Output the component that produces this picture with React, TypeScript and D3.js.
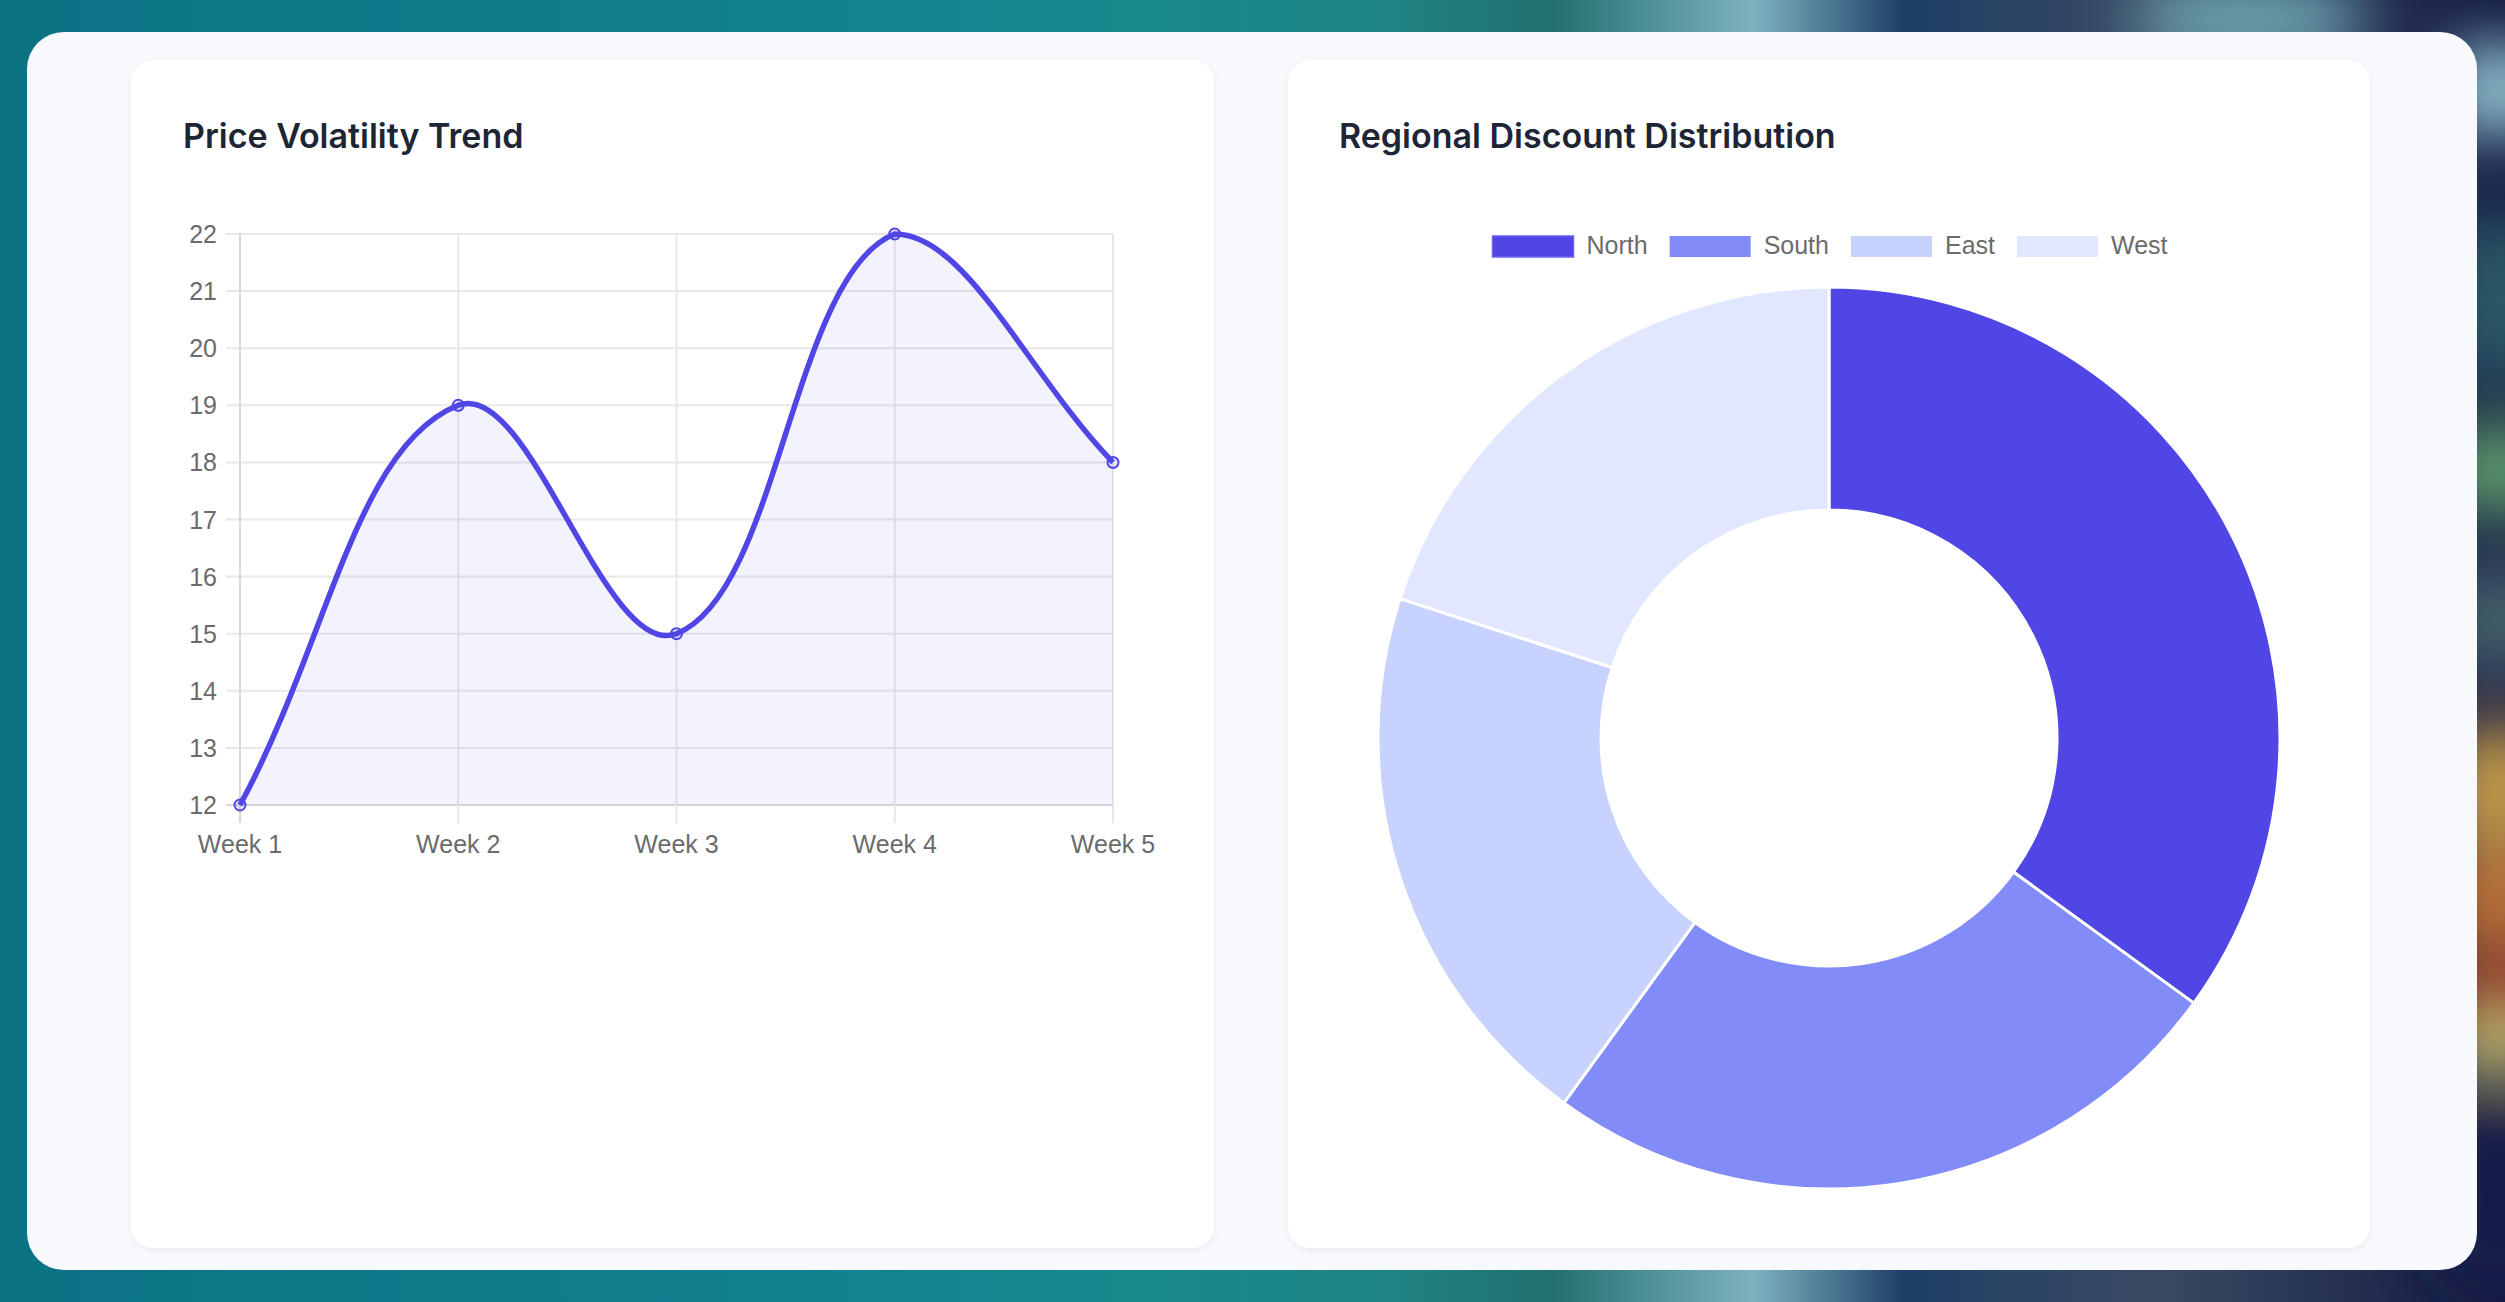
import { useMemo } from "react";
import * as d3 from "d3";

// Line chart data
const weeks = ["Week 1", "Week 2", "Week 3", "Week 4", "Week 5"];
const prices = [12, 19, 15, 22, 18];
const priceDomain = [12, 22];

// Doughnut data
const regions = ["North", "South", "East", "West"];
const discounts = [35, 25, 20, 20];
const regionColors = ["#4f46e5", "#818cf8", "#c7d2fe", "#e0e7ff"];

const W = 2505;
const H = 1302;
const labelFont = "'Liberation Sans', Arial, Helvetica, sans-serif";
const titleFont = "Inter, 'Noto Sans', sans-serif";

// Chart.js style spline (tension + control points capped to the chart area)
const chartSpline = (tension: number, box: { left: number; right: number; top: number; bottom: number }) =>
  (context: any) => {
    let xs: number[] = [];
    let ys: number[] = [];
    let line = NaN;
    const capX = (v: number) => Math.max(box.left, Math.min(box.right, v));
    const capY = (v: number) => Math.max(box.top, Math.min(box.bottom, v));
    return {
      areaStart() { line = 0; },
      areaEnd() { line = NaN; },
      lineStart() { xs = []; ys = []; },
      point(x: number, y: number) { xs.push(+x); ys.push(+y); },
      lineEnd() {
        const n = xs.length;
        if (n) {
          if (line) context.lineTo(xs[0], ys[0]);
          else context.moveTo(xs[0], ys[0]);
          const cps = xs.map((_, i) => {
            const p = Math.max(i - 1, 0);
            const q = Math.min(i + 1, n - 1);
            const d01 = Math.hypot(xs[i] - xs[p], ys[i] - ys[p]);
            const d12 = Math.hypot(xs[q] - xs[i], ys[q] - ys[i]);
            const s01 = d01 + d12 ? d01 / (d01 + d12) : 0;
            const s12 = d01 + d12 ? d12 / (d01 + d12) : 0;
            const fa = tension * s01;
            const fb = tension * s12;
            const dx = xs[q] - xs[p];
            const dy = ys[q] - ys[p];
            return {
              px: capX(xs[i] - fa * dx), py: capY(ys[i] - fa * dy),
              nx: capX(xs[i] + fb * dx), ny: capY(ys[i] + fb * dy),
            };
          });
          for (let i = 0; i < n - 1; i++) {
            context.bezierCurveTo(cps[i].nx, cps[i].ny, cps[i + 1].px, cps[i + 1].py, xs[i + 1], ys[i + 1]);
          }
        }
        if (line || (line !== 0 && n === 1)) context.closePath();
        line = 1 - line;
      },
    };
  };

const LineCard = () => {
  const plot = { left: 240, right: 1113, top: 234, bottom: 805 };

  const x = d3.scalePoint<string>().domain(weeks).range([plot.left, plot.right]);
  const y = d3.scaleLinear().domain(priceDomain).range([plot.bottom, plot.top]);
  const curve = chartSpline(0.4, plot) as any;

  const lineGen = d3.line<number>()
    .x((_, i) => x(weeks[i])!)
    .y((d) => y(d))
    .curve(curve);
  const areaGen = d3.area<number>()
    .x((_, i) => x(weeks[i])!)
    .y0(plot.bottom)
    .y1((d) => y(d))
    .curve(curve);

  const yTicks = y.ticks(10);

  return (
    <g>
      <text x={183} y={148} fontFamily={titleFont} fontWeight={600} fontSize={34} fill="#1e2535">
        Price Volatility Trend
      </text>

      {/* horizontal grid */}
      {yTicks.map((t) => (
        <g key={t}>
          <line x1={plot.left - 14} x2={plot.right} y1={y(t)} y2={y(t)}
            stroke={t === priceDomain[0] ? "#d9d9d9" : "#e8e8e8"} strokeWidth={2} />
          <text x={217} y={y(t)} textAnchor="end" dominantBaseline="central"
            fontFamily={labelFont} fontSize={25} fill="#6b6b6b">{t}</text>
        </g>
      ))}

      {/* vertical grid */}
      {weeks.map((w, i) => (
        <g key={w}>
          <line x1={x(w)} x2={x(w)} y1={plot.top} y2={plot.bottom + 18}
            stroke={i === 0 ? "#d9d9d9" : "#e8e8e8"} strokeWidth={2} />
          <text x={x(w)} y={853} textAnchor="middle"
            fontFamily={labelFont} fontSize={25} fill="#6b6b6b">{w}</text>
        </g>
      ))}

      <path d={areaGen(prices) ?? ""} fill="rgba(79,76,229,0.065)" />
      <path d={lineGen(prices) ?? ""} fill="none" stroke="#4f46e5" strokeWidth={5.5} />
      {prices.map((p, i) => (
        <circle key={i} cx={x(weeks[i])} cy={y(p)} r={5.5}
          fill="rgba(79,70,229,0.12)" stroke="#4f46e5" strokeWidth={2} />
      ))}
    </g>
  );
};

const DonutCard = () => {
  const cx = 1829;
  const cy = 738;
  const rOuter = 451;
  const rInner = 228;

  const color = d3.scaleOrdinal<string, string>().domain(regions).range(regionColors);
  const pie = d3.pie<number>().sort(null).value((d) => d);
  const arc = d3.arc<d3.PieArcDatum<number>>().innerRadius(rInner).outerRadius(rOuter);
  const slices = pie(discounts);

  // legend layout like Chart.js: box, half font gap, label, padding
  const legend = useMemo(() => {
    const ctx = document.createElement("canvas").getContext("2d")!;
    ctx.font = `25px ${labelFont}`;
    const boxW = 81;
    const gap = 13;
    const pad = 22;
    const widths = regions.map((r) => boxW + gap + ctx.measureText(r).width);
    const total = d3.sum(widths) + pad * (regions.length - 1);
    let pos = 1830 - total / 2;
    return regions.map((r, i) => {
      const item = { name: r, x: pos, boxW, textX: pos + boxW + gap };
      pos += widths[i] + pad;
      return item;
    });
  }, []);

  return (
    <g>
      <text x={1339} y={148} fontFamily={titleFont} fontWeight={600} fontSize={34} fill="#1e2535">
        Regional Discount Distribution
      </text>

      {legend.map((l) => (
        <g key={l.name}>
          <rect x={l.x} y={236} width={l.boxW} height={21} fill={color(l.name)}
            stroke={l.name === "North" ? "#6a63ee" : "none"} strokeWidth={1.5} />
          <text x={l.textX} y={245} dominantBaseline="central"
            fontFamily={labelFont} fontSize={25} fill="#6b6b6b">{l.name}</text>
        </g>
      ))}

      <g transform={`translate(${cx},${cy})`}>
        {slices.map((s, i) => (
          <path key={regions[i]} d={arc(s) ?? ""} fill={color(regions[i])}
            stroke="#ffffff" strokeWidth={3} strokeLinejoin="round" />
        ))}
      </g>
    </g>
  );
};

export default function App() {
  return (
    <div style={{ position: "fixed", left: 0, top: 0 }}>
      <svg width={W} height={H} style={{ display: "block" }}>
        <defs>
          <linearGradient id="bg" x1="0" y1="0" x2="1" y2="0">
            <stop offset="0" stopColor="#0b7284" />
            <stop offset="0.3" stopColor="#11808f" />
            <stop offset="0.45" stopColor="#178a8e" />
            <stop offset="0.55" stopColor="#1f8585" />
            <stop offset="0.62" stopColor="#22706e" />
            <stop offset="0.7" stopColor="#7eb2c0" />
            <stop offset="0.76" stopColor="#1d3f66" />
            <stop offset="0.86" stopColor="#3a4a62" />
            <stop offset="1" stopColor="#131a42" />
          </linearGradient>
          <filter id="blur" x="-50%" y="-50%" width="200%" height="200%">
            <feGaussianBlur stdDeviation="30" />
          </filter>
          <filter id="shadow" x="-5%" y="-5%" width="110%" height="110%">
            <feDropShadow dx="0" dy="2" stdDeviation="3" floodColor="#000" floodOpacity="0.06" />
          </filter>
        </defs>

        {/* background */}
        <rect width={W} height={H} fill="url(#bg)" />
        <g filter="url(#blur)">
          <ellipse cx={2500} cy={90} rx={60} ry={50} fill="#8fbfcd" />
          <ellipse cx={2500} cy={300} rx={60} ry={90} fill="#2a5866" />
          <ellipse cx={2500} cy={470} rx={60} ry={50} fill="#5e9c6c" />
          <ellipse cx={2500} cy={620} rx={60} ry={60} fill="#45606a" />
          <ellipse cx={2500} cy={790} rx={60} ry={70} fill="#c29a4a" />
          <ellipse cx={2500} cy={900} rx={60} ry={50} fill="#c27434" />
          <ellipse cx={2500} cy={985} rx={60} ry={35} fill="#a33e2c" />
          <ellipse cx={2500} cy={1045} rx={60} ry={30} fill="#d2c872" />
          <ellipse cx={2500} cy={1200} rx={80} ry={100} fill="#161d48" />
          <ellipse cx={2250} cy={20} rx={120} ry={40} fill="#6fa7b4" />
        </g>

        {/* panel */}
        <rect x={27} y={32} width={2450} height={1238} rx={37} fill="#f7f9fc" />

        {/* cards */}
        <rect x={131} y={60} width={1083} height={1188} rx={22} fill="#ffffff" filter="url(#shadow)" />
        <rect x={1288} y={60} width={1082} height={1188} rx={22} fill="#ffffff" filter="url(#shadow)" />

        <LineCard />
        <DonutCard />
      </svg>
    </div>
  );
}
